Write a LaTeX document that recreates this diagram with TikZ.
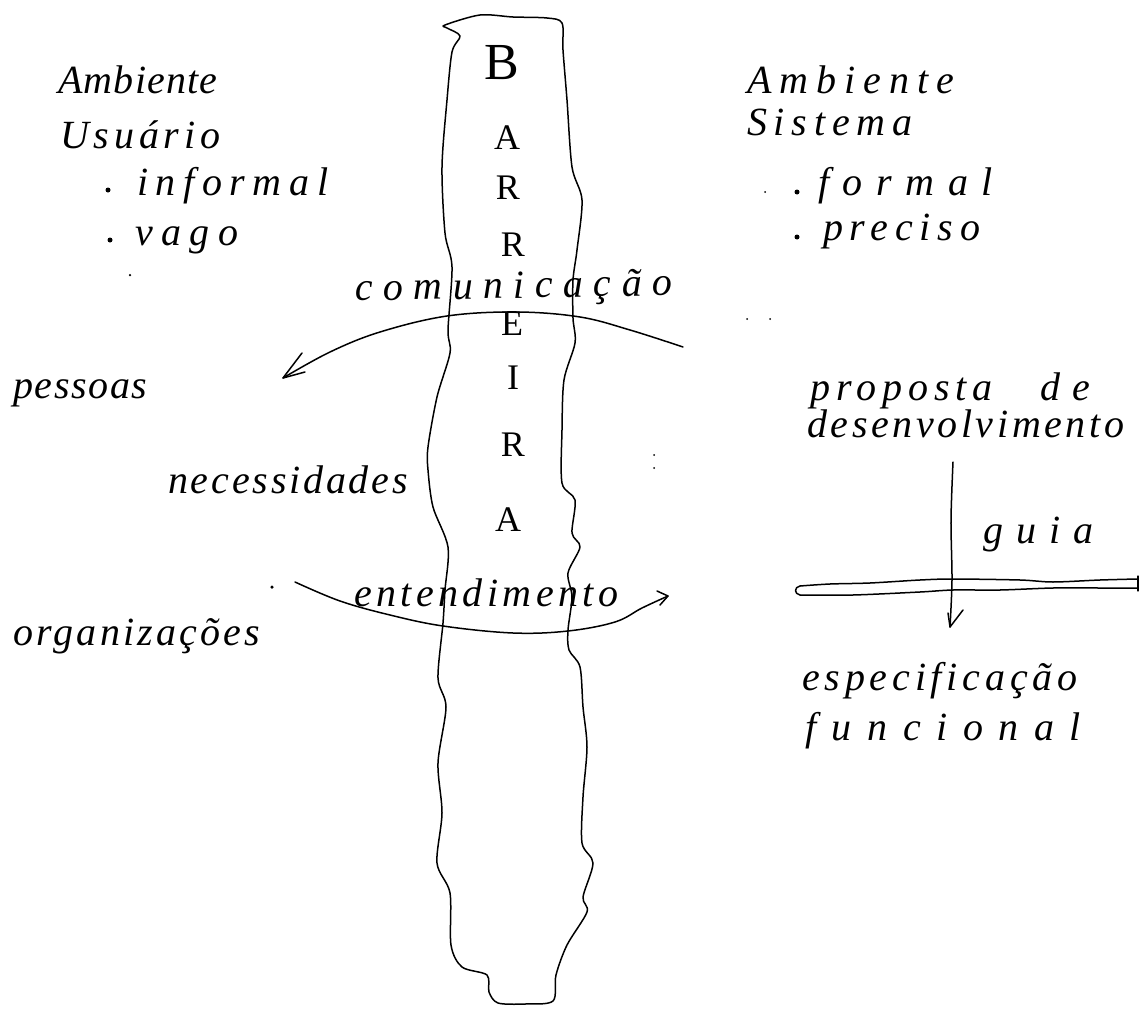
\documentclass[tikz,border=0pt]{standalone}
\usepackage{fontspec}
\newfontfamily\hand{Liberation Serif}
\newcommand{\lsp}[2]{{\addfontfeature{LetterSpace=#1}#2}}
\begin{document}
\begin{tikzpicture}[x=1pt,y=-1pt,
  ink/.style={line width=1.5pt, line cap=round, line join=round, black},
  thinink/.style={line width=1.2pt, line cap=round, line join=round, black},
  txt/.style={anchor=base west, inner sep=0pt, font=\hand\itshape\fontsize{40}{44}\selectfont},
  barletter/.style={anchor=center, inner sep=0pt, font=\hand\fontsize{36}{40}\selectfont},
  speck/.style={fill=black, draw=none, circle, inner sep=0pt, minimum size=#1},
  speck/.default=2.5pt]
\useasboundingbox (0,0) rectangle (1144,1009);
\fill[white] (0,0) rectangle (1144,1009);

% ---------- barrier ----------
\draw[ink] plot[smooth cycle, tension=0.5] coordinates {
 (445,25) (480,15) (513,17) (547,18) (562,23)
 (563,50) (567,100) (572,167) (582,200) (577,250) (573,280) (573,318) (575,343)
 (564,380) (562,430) (562,483) (575,500) (572,533) (580,547) (568,573) (572,597)
 (568,630) (569,650) (580,667) (583,707) (587,747) (583,797) (582,843) (593,863)
 (583,897) (587,912) (567,945) (556,975) (553,1001)
 (525,1004) (498,1003) (489,992) (487,975) (462,967) (451,945)
 (450,893) (437,863) (442,813) (438,763) (446,707) (438,678) (443,623)
 (445,590) (448,547) (433,507) (428,470) (428,447) (437,397) (450,353)
 (448,330) (452,267) (445,233) (442,167) (447,100) (452,52) (460,36) (447,28)};

% letters of BARREIRA
\node[barletter, font=\hand\fontsize{52}{56}\selectfont] (lB) at (502,63) {B};
\node[barletter] (lA1) at (507,138) {A};
\node[barletter] (lR1) at (508,188) {R};
\node[barletter] (lR2) at (513,245) {R};
\node[barletter] (lE)  at (512,324) {E};
\node[barletter] (lI)  at (513,378) {I};
\node[barletter] (lR3) at (513,445) {R};
\node[barletter] (lA2) at (508,520) {A};

% ---------- left texts ----------
\node[txt] (ambU) at (58,93)  {\lsp{3}{Ambiente}};
\node[txt] (usu)  at (60,148) {\lsp{12}{Usuário}};
\node[speck=5pt] (d1) at (108,190) {};
\node[txt] (inf)  at (137,195) {\lsp{19}{informal}};
\node[speck=5pt] (d2) at (110,240) {};
\node[txt] (vag)  at (135,245) {\lsp{21}{vago}};
\node[txt] (pes)  at (13,398)  {\lsp{4}{pessoas}};
\node[txt] (nec)  at (168,493) {\lsp{7}{necessidades}};
\node[txt] (org)  at (13,645)  {\lsp{8}{organizações}};

% ---------- right texts ----------
\node[txt] (ambS) at (747,93)  {\lsp{20}{Ambiente}};
\node[txt] (sis)  at (747,135) {\lsp{17}{Sistema}};
\node[speck=2pt] (d3) at (765,192) {};
\node[speck=5pt] (d4) at (797,192) {};
\node[txt] (for)  at (818,195) {\lsp{34}{formal}};
\node[speck=5pt] (d5) at (797,237) {};
\node[txt] (pre)  at (823,240) {\lsp{17}{preciso}};
\node[txt] (prop) at (810,400) {\lsp{15}{proposta}};
\node[txt] (de)   at (1040,400) {\lsp{30}{de}};
\node[txt] (des)  at (807,437) {\lsp{9}{desenvolvimento}};
\node[txt] (gui)  at (983,543) {\lsp{33}{guia}};
\node[txt] (esp)  at (802,690) {\lsp{12}{especificação}};
\node[txt] (fun)  at (805,740) {\lsp{39}{funcional}};

% ---------- comunicação arc ----------
\node[txt, rotate=1] (com) at (355,301) {\lsp{26}{comunicação}};
\coordinate (cS) at (683,347);
\coordinate (cT) at (283,378);
\draw[ink] plot[smooth, tension=0.6] coordinates {
  (cS) (630,330) (580,317) (517,312) (447,316) (380,332) (330,352) (cT)};
\coordinate (cB1) at (302,353);
\coordinate (cB2) at (305,372);
\draw[ink] (cB1) -- (cT) -- (cB2);

% ---------- entendimento arc ----------
\node[txt] (ent) at (354,606) {\lsp{11}{entendimento}};
\coordinate (eS) at (295,582);
\coordinate (eT) at (668,596);
\draw[ink] plot[smooth, tension=0.6] coordinates {
  (eS) (340,601) (390,615) (443,626) (513,633) (568,631) (615,622) (642,608) (eT)};
\coordinate (eB1) at (657,591);
\coordinate (eB2) at (660,605);
\draw[ink] (eB1) -- (eT) -- (eB2);

% ---------- guia bar ----------
\draw[ink] plot[smooth, tension=0.5] coordinates {
  (800,586) (830,584) (870,583) (920,580) (953,579) (1020,580) (1053,582) (1100,580) (1137,579)};
\draw[ink] plot[smooth, tension=0.5] coordinates {
  (800,595) (853,595) (920,592) (953,590) (1000,590) (1053,588) (1100,588) (1137,588)};
\draw[ink] (800,586) .. controls (794,587) and (794,594) .. (800,595);
\draw[thinink] (1138,576) -- (1138,591);

% ---------- guia arrow ----------
\coordinate (gS) at (953,462);
\coordinate (gT) at (950,627);
\draw[ink] plot[smooth, tension=0.5] coordinates {(gS) (951,520) (952,580) (gT)};
\coordinate (gB1) at (948,613);
\coordinate (gB2) at (963,610);
\draw[ink] (gB1) -- (gT) -- (gB2);

% ---------- specks ----------
\node[speck] (s1) at (130,275) {};
\node[speck=3.5pt] (s2) at (272,587) {};
\node[speck=2pt] (s3) at (747,319) {};
\node[speck=2pt] (s4) at (770,319) {};
\node[speck=2pt] (s5) at (654,455) {};
\node[speck=2pt] (s6) at (654,468) {};
\end{tikzpicture}
\end{document}
